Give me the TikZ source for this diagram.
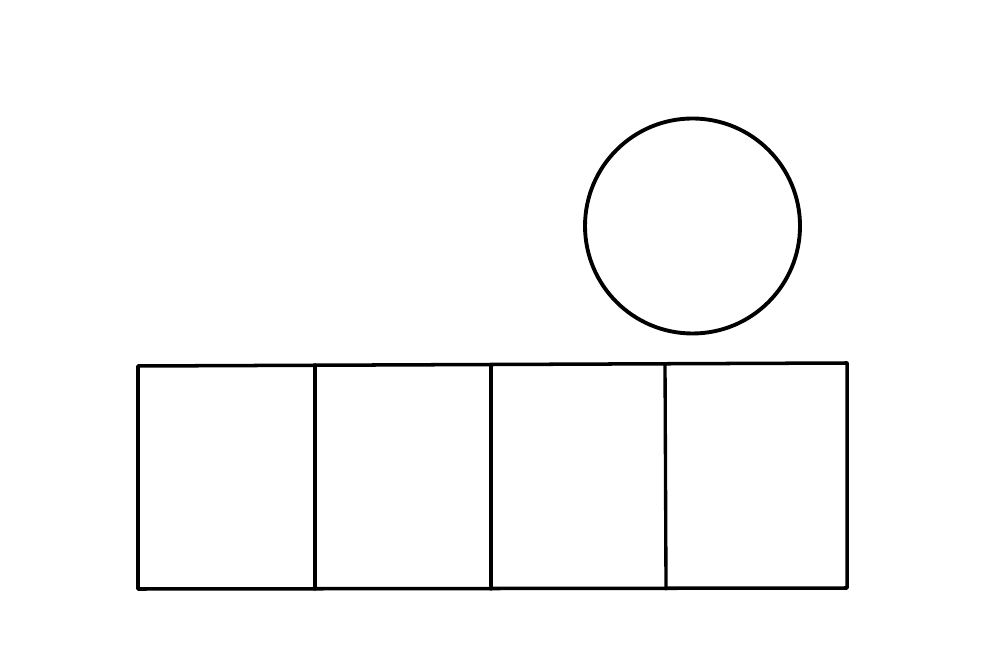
\documentclass[tikz,border=0pt]{standalone}
\usepackage{tikz}
\usepackage{tkz-euclide}

\begin{document}
\begin{tikzpicture}

      \tkzInit[xmax=10, xmin=0, ymin=0, ymax=6.7]
      \tkzClip

      \tkzDefPoint(1.38,0.81){A}
      \tkzDefPoint(8.47,0.82){B}
      \tkzDefPoint(8.47,3.07){C}
      \tkzDefPoint(1.38,3.04){D}
      \tkzDrawPolygon[line width=1pt](A,B,C,D)

      \tkzDefPoint(3.15,0.81){E}
      \tkzDefPoint(3.15,3.05){e}
      \tkzDefPoint(4.91,0.81){F}
      \tkzDefPoint(4.91,3.05){f}
      \tkzDefPoint(6.66,0.81){G}
      \tkzDefPoint(6.65,3.06){g}
      \tkzDrawSegments[line width=0.95pt](E,e F,f G,g)

      \tkzDefPoint(6.925,4.44){O}
      \tkzDefPoint(8.00,4.44){M}
      \tkzDrawCircle[color=black, line width=1.1pt](O,M)

    \end{tikzpicture}
\end{document}
